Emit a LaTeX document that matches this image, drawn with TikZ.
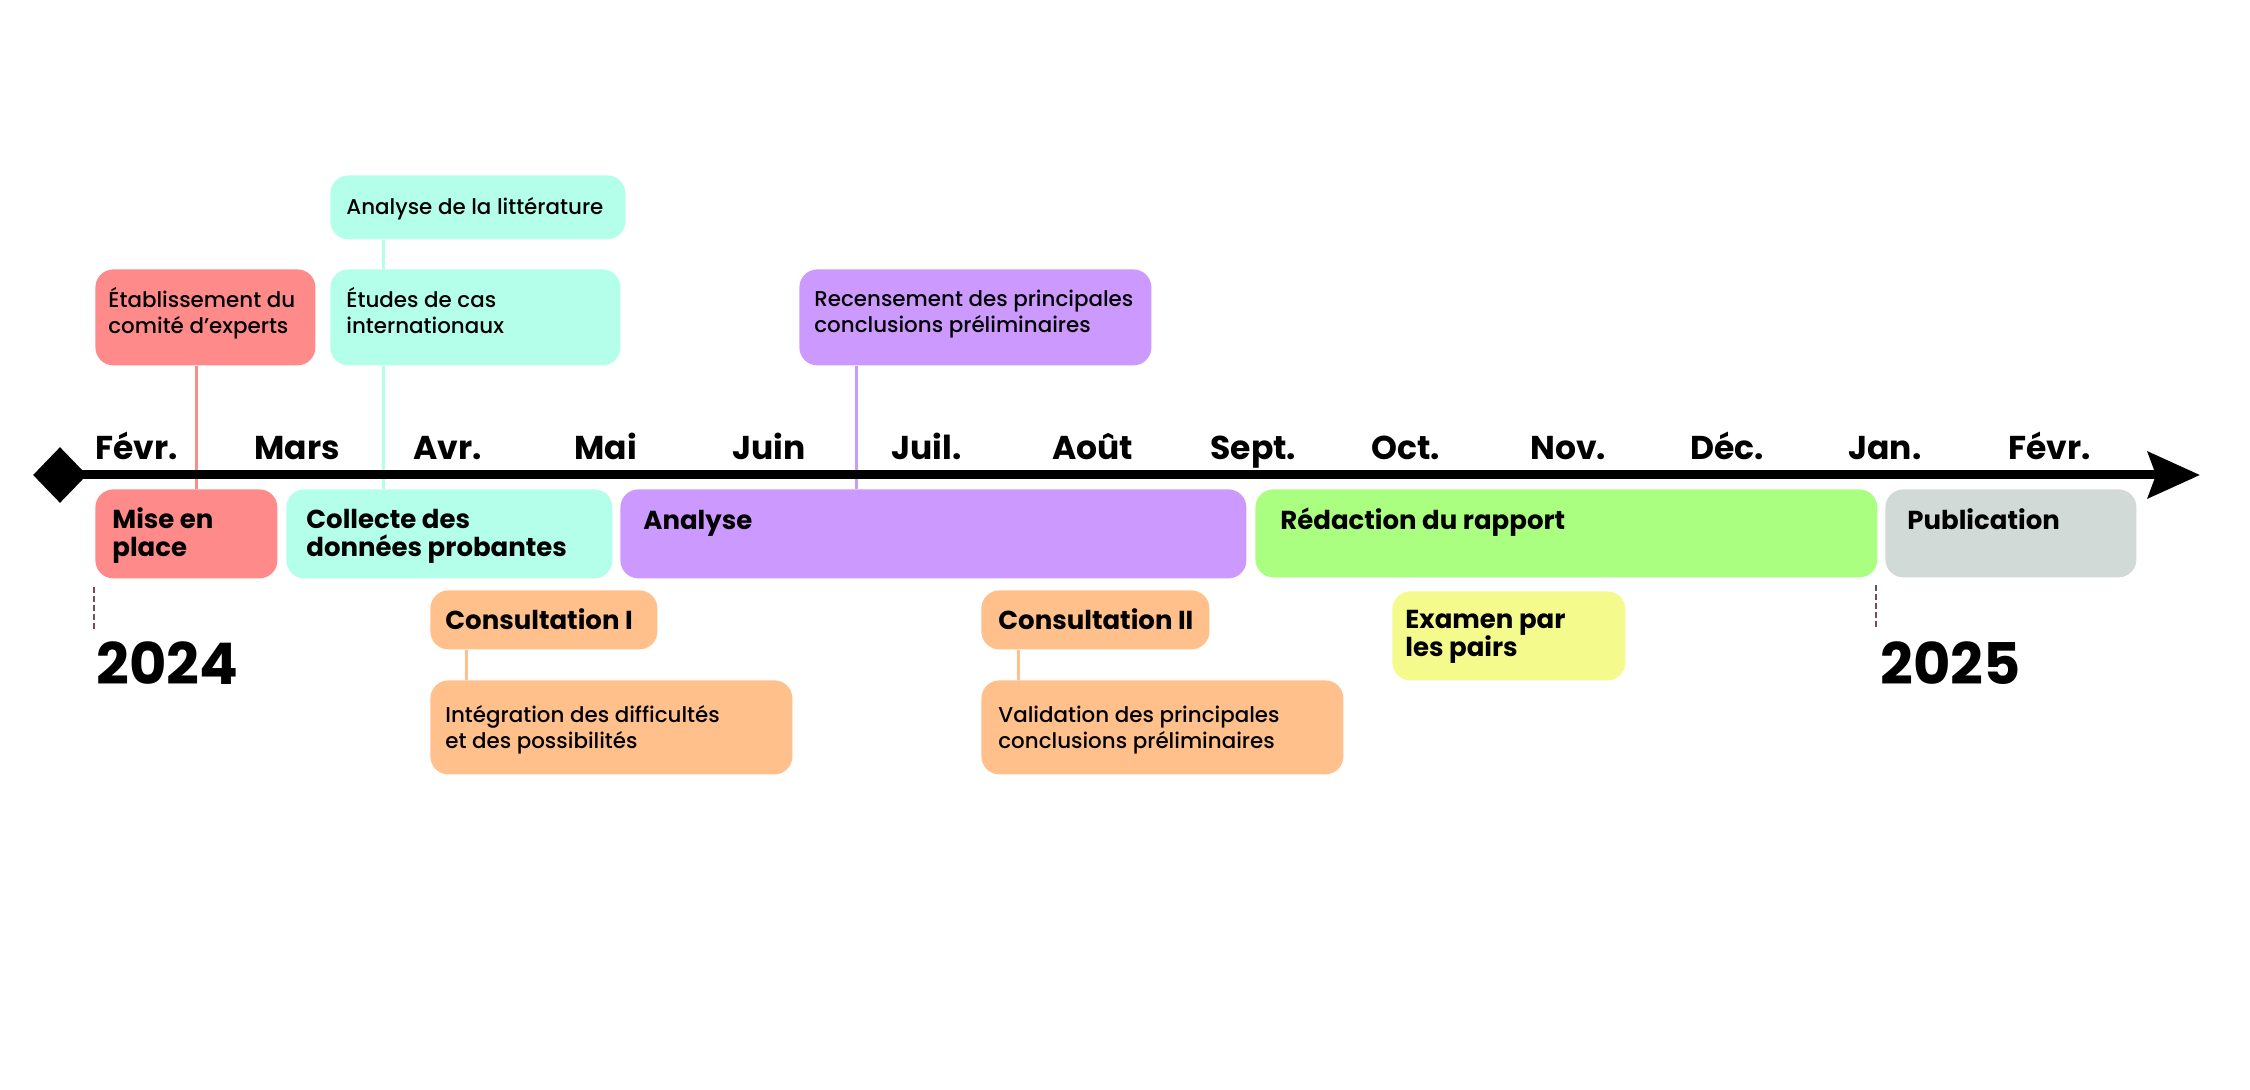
\documentclass[tikz,border=0pt]{standalone}
\usepackage{fontspec}
\setmainfont{Poppins}
\newfontfamily\popmed{Poppins Medium}
\usetikzlibrary{arrows.meta,shapes.geometric,calc}

\definecolor{csalmon}{HTML}{FF8A8A}
\definecolor{cmint}{HTML}{B3FFE9}
\definecolor{clav}{HTML}{CC99FF}
\definecolor{cgreen}{HTML}{ABFF80}
\definecolor{cgrey}{HTML}{D2DAD8}
\definecolor{corange}{HTML}{FFC08C}
\definecolor{cyellow}{HTML}{F5FA8C}
\definecolor{cdash}{HTML}{7A4A55}

\newcommand\tlbox[6]{%
  \node[tlb, fill=#2, minimum width={(#5-#3)*0.5pt}, minimum height={(#6-#4)*0.5pt}] (#1) at (#3,#4) {};}

\tikzset{
  tlb/.style={rounded corners=9pt, anchor=north west, inner sep=0pt, draw=none},
  ttl/.style={anchor=base west, inner sep=0pt, align=left,
    font=\fontsize{13}{14}\selectfont\bfseries},
  sml/.style={anchor=base west, inner sep=0pt, align=left,
    font=\popmed\fontsize{10.7}{13}\selectfont},
  month/.style={anchor=base west, inner sep=0pt,
    font=\fontsize{16.5}{18}\selectfont\bfseries},
  year/.style={anchor=base west, inner sep=0pt,
    font=\fontsize{28.7}{30}\selectfont\bfseries},
  conn/.style={line width=1.5pt},
  yeardash/.style={draw=cdash, line width=0.6pt, dash pattern=on 3pt off 1.5pt},
}

\begin{document}
\begin{tikzpicture}[x=0.5pt,y=-0.5pt]
\useasboundingbox (0,0) rectangle (2250,1090);
\fill[white] (0,0) rectangle (2250,1090);

% boxes above axis
\tlbox{lit}{cmint}{330}{175}{625}{239}
\tlbox{etab}{csalmon}{95}{269}{315}{365}
\tlbox{etudes}{cmint}{330}{269}{620}{365}
\tlbox{recens}{clav}{799}{269}{1151}{365}
% boxes on axis
\tlbox{mise}{csalmon}{95}{489}{277}{578}
\tlbox{collecte}{cmint}{286}{489}{612}{578}
\tlbox{analyse}{clav}{620}{489}{1246}{578}
\tlbox{redac}{cgreen}{1255}{489}{1877}{577}
\tlbox{pub}{cgrey}{1885}{489}{2136}{577}
% boxes below
\tlbox{cons1}{corange}{430}{590}{657}{649}
\tlbox{integ}{corange}{430}{680}{792}{774}
\tlbox{cons2}{corange}{981}{590}{1209}{649}
\tlbox{valid}{corange}{981}{680}{1343}{774}
\tlbox{examen}{cyellow}{1392}{591}{1625}{680}

% connectors
\coordinate (k1) at ($(etab.south west)+(101,0)$);
\coordinate (k2) at ($(lit.south west)+(53,0)$);
\coordinate (k3) at ($(etudes.south west)+(53,0)$);
\coordinate (k4) at ($(recens.south west)+(57,0)$);
\coordinate (k5) at ($(cons1.south west)+(36,0)$);
\coordinate (k6) at ($(cons2.south west)+(37,0)$);
\draw[conn, draw=csalmon] (k1) -- (k1 |- mise.north);
\draw[conn, draw=cmint] (k2) -- (k2 |- etudes.north);
\draw[conn, draw=cmint] (k3) -- (k3 |- collecte.north);
\draw[conn, draw=clav] (k4) -- (k4 |- analyse.north);
\draw[conn, draw=corange] (k5) -- (k5 |- integ.north);
\draw[conn, draw=corange] (k6) -- (k6 |- valid.north);

% texts (base anchor of two-line nodes is the last line)
\node[sml] (lit-t) at ($(lit.north west)+(16,40)$) {Analyse de la littérature};
\node[sml] (etab-t) at ($(etab.north west)+(13,65)$) {Établissement du\\comité d’experts};
\node[sml] (etudes-t) at ($(etudes.north west)+(16,65)$) {Études de cas\\internationaux};
\node[sml] (recens-t) at ($(recens.north west)+(15,64)$) {Recensement des principales\\conclusions préliminaires};
\node[ttl] (mise-t) at ($(mise.north west)+(17,68)$) {Mise en\\place};
\node[ttl] (collecte-t) at ($(collecte.north west)+(20,68)$) {Collecte des\\données probantes};
\node[ttl] (analyse-t) at ($(analyse.north west)+(23,41)$) {Analyse};
\node[ttl] (redac-t) at ($(redac.north west)+(25,41)$) {Rédaction du rapport};
\node[ttl] (pub-t) at ($(pub.north west)+(22,41)$) {Publication};
\node[ttl] (cons1-t) at ($(cons1.north west)+(15,40)$) {Consultation I};
\node[sml] (integ-t) at ($(integ.north west)+(15,68)$) {Intégration des difficultés\\et des possibilités};
\node[ttl] (cons2-t) at ($(cons2.north west)+(17,40)$) {Consultation II};
\node[sml] (valid-t) at ($(valid.north west)+(17,68)$) {Validation des principales\\conclusions préliminaires};
\node[ttl] (examen-t) at ($(examen.north west)+(13,66)$) {Examen par\\les pairs};

% axis
\node[diamond, fill=black, inner sep=0pt, minimum width=27pt, minimum height=28pt] (start) at (60,475) {};
\coordinate (tip) at (2200,475);
\draw[line width=4.5pt, -{Stealth[length=26pt,width=23pt,inset=4pt]}] (start.center) -- (tip);

% months
\node[month] (m1) at (95,460) {Févr.};
\node[month] (m2) at (254,460) {Mars};
\node[month] (m3) at (413,460) {Avr.};
\node[month] (m4) at (574,460) {Mai};
\node[month] (m5) at (732,460) {Juin};
\node[month] (m6) at (891,460) {Juil.};
\node[month] (m7) at (1052,460) {Août};
\node[month] (m8) at (1210,460) {Sept.};
\node[month] (m9) at (1371,460) {Oct.};
\node[month] (m10) at (1530,460) {Nov.};
\node[month] (m11) at (1690,460) {Déc.};
\node[month] (m12) at (1848,460) {Jan.};
\node[month] (m13) at (2008,460) {Févr.};

% years
\node[year] (y24) at (96,685) {2024};
\node[year] (y25) at (1880,685) {2025};
\coordinate (d24a) at (94,587);
\coordinate (d24b) at (94,630);
\coordinate (d25a) at (1876,585);
\coordinate (d25b) at (1876,630);
\draw[yeardash] (d24a) -- (d24b);
\draw[yeardash] (d25a) -- (d25b);
\end{tikzpicture}
\end{document}
